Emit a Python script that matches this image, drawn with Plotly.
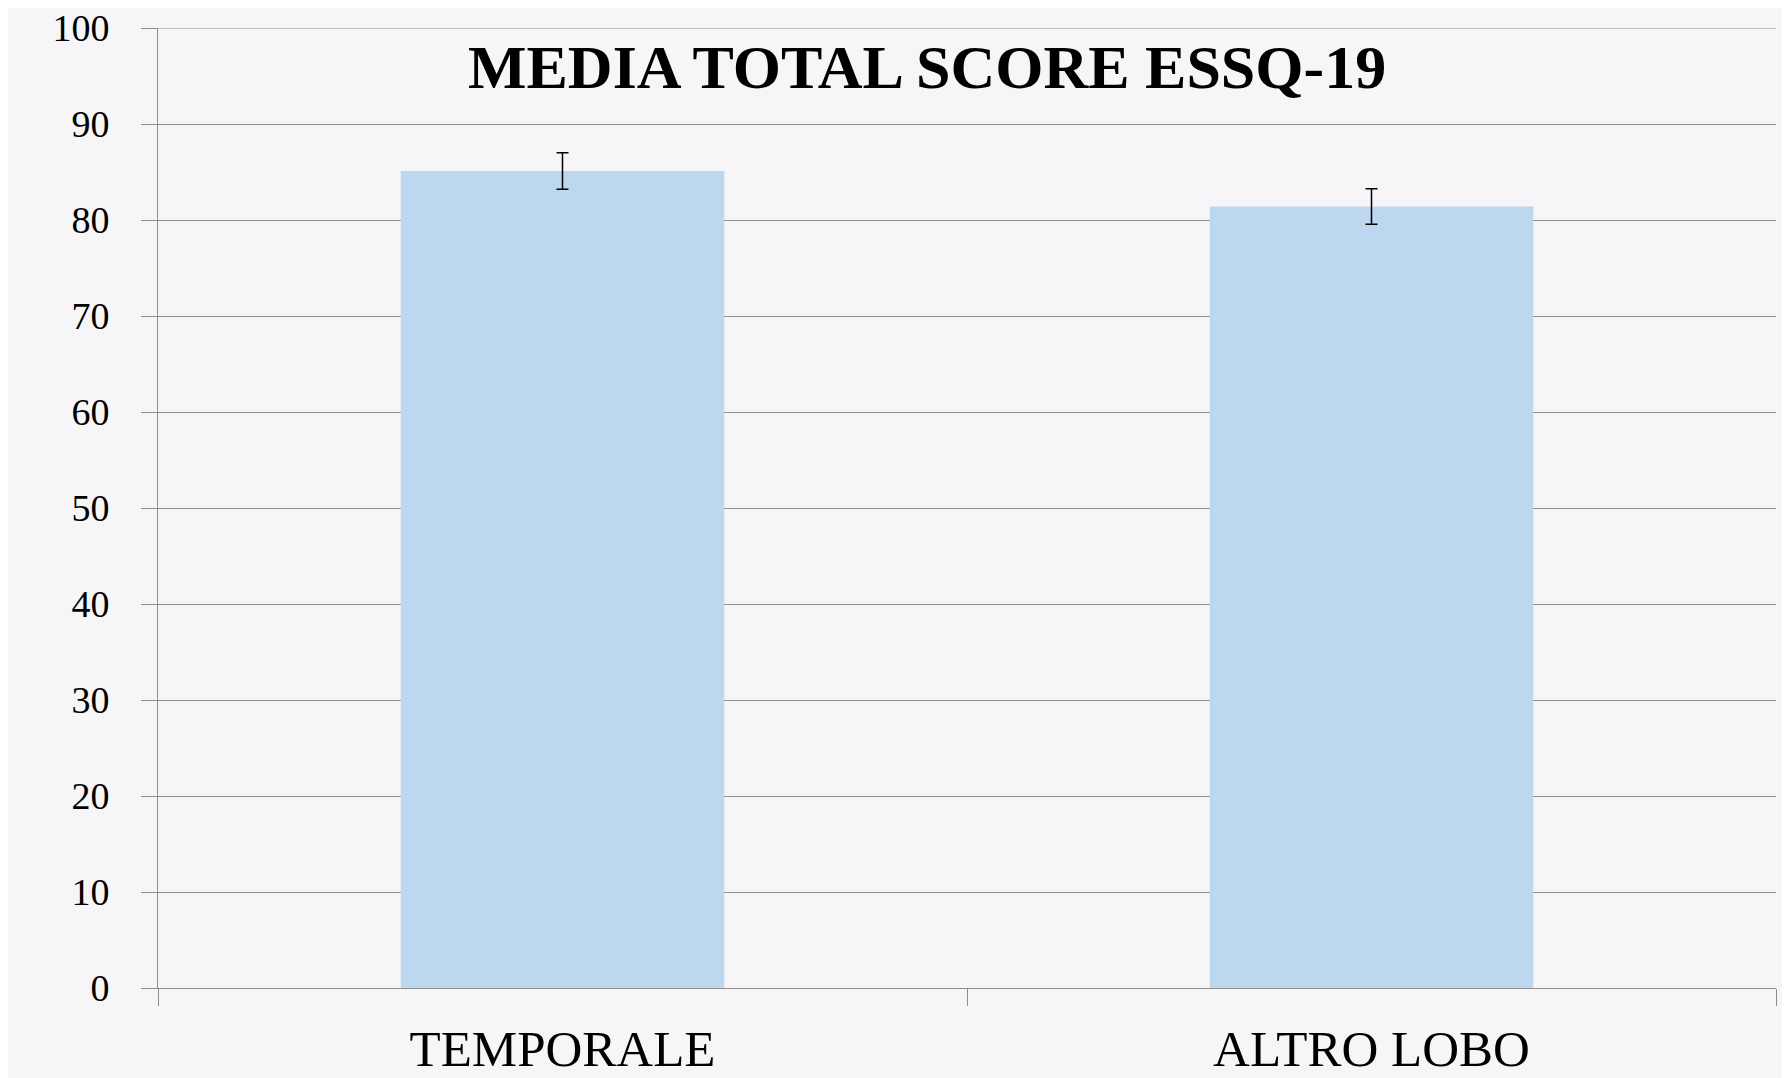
import plotly.graph_objects as go

categories = ["TEMPORALE", "ALTRO LOBO"]
means = [85.1, 81.4]
errors = [1.9, 1.85]
y_ticks = [0, 10, 20, 30, 40, 50, 60, 70, 80, 90, 100]
title_text = "MEDIA TOTAL SCORE ESSQ-19"

grid_color = "#8e8e8e"
serif = "Book Antiqua, Palatino Linotype, Liberation Serif, DejaVu Serif, serif"

fig = go.Figure()
fig.add_trace(go.Bar(
    x=categories,
    y=means,
    marker=dict(color="#bdd7ee", line=dict(width=0)),
    width=0.4,
    error_y=dict(type="data", array=errors, visible=True,
                 color="#000000", thickness=1.5, width=6),
))

fig.update_layout(
    width=1782,
    height=1070,
    margin=dict(l=150, r=14, t=20, b=90, autoexpand=False),
    paper_bgcolor="#f6f6f8",
    plot_bgcolor="rgba(0,0,0,0)",
    showlegend=False,
    bargap=0.6,
    font=dict(family=serif, color="#000000"),
    annotations=[dict(
        text="<b>" + title_text + "</b>",
        xref="paper", yref="paper",
        x=(927 - 158) / (1776 - 158), y=1.0,
        xanchor="center", yanchor="top",
        yshift=-3,
        showarrow=False,
        font=dict(family=serif, size=62, color="#000000"),
    )],
    shapes=[dict(
        type="line", xref="paper", yref="y",
        x0=0, x1=1, y0=y_ticks[-1], y1=y_ticks[-1],
        line=dict(color=grid_color, width=1),
        layer="below",
    )],
)

fig.update_xaxes(
    type="category",
    automargin=False,
    showline=True, linecolor=grid_color, linewidth=1,
    ticks="outside", ticklen=17, tickcolor=grid_color, tickwidth=1,
    tickson="boundaries",
    showgrid=False,
    tickfont=dict(family=serif, size=51, color="#000000"),
    ticklabelstandoff=16,
    ticklabeloverflow="allow",
)

fig.update_yaxes(
    range=[0, 100],
    automargin=False,
    tickvals=y_ticks,
    ticktext=[str(v) for v in y_ticks],
    showgrid=True, gridcolor=grid_color, gridwidth=1,
    showline=True, linecolor=grid_color, linewidth=1,
    ticks="outside", ticklen=16, tickcolor=grid_color, tickwidth=1,
    zeroline=False,
    tickfont=dict(family=serif, size=38, color="#000000"),
    ticklabelstandoff=24,
    ticklabeloverflow="allow",
)

fig.write_html("out.html")
